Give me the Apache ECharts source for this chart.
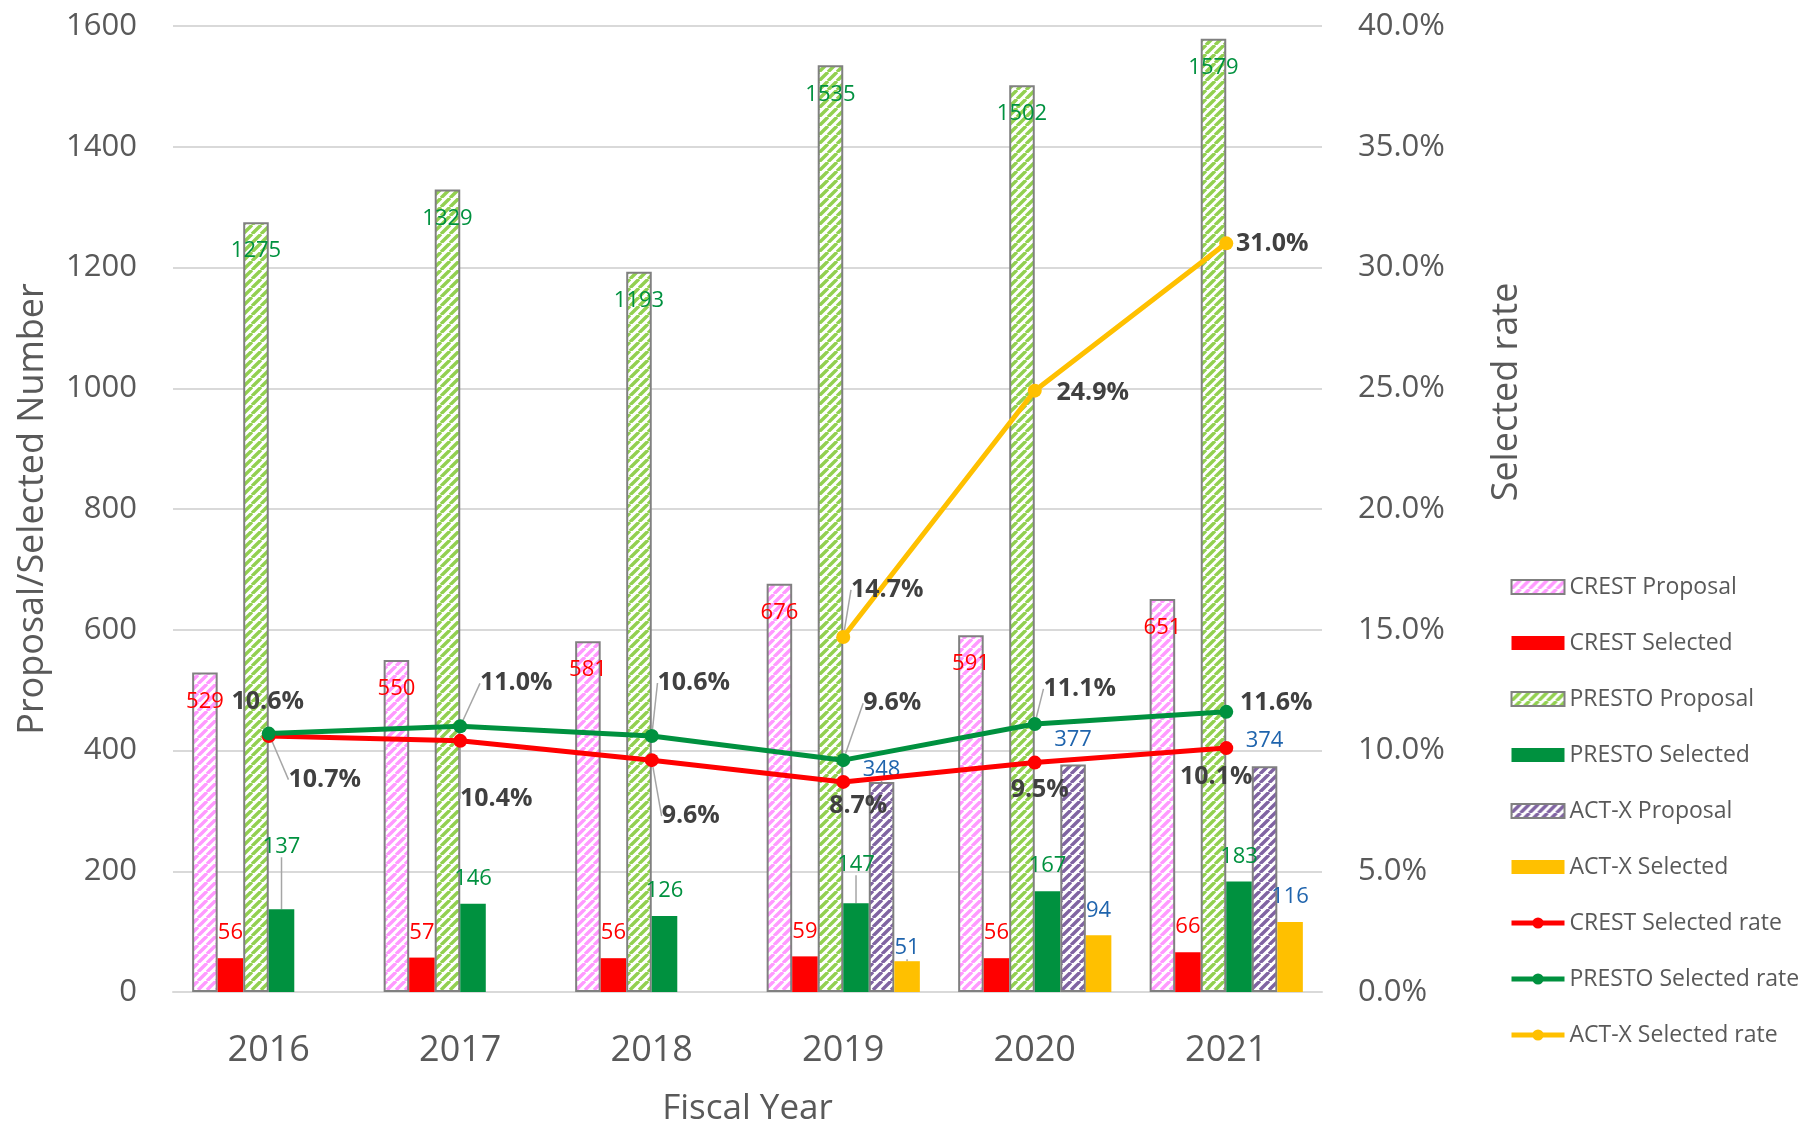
<!DOCTYPE html>
<html lang="en">
<head>
<meta charset="UTF-8">
<title>Proposal / Selected</title>
<script src="https://cdn.jsdelivr.net/npm/echarts@6/dist/echarts.min.js"></script>
<style>
    html,body{margin:0;padding:0;background:#fff;}
    #main{width:1811px;height:1124px;}
</style>
</head>
<body>
<div id="main"></div>
<script>
// data
var years = ['2016', '2017', '2018', '2019', '2020', '2021'];
var crestProposal = [529, 550, 581, 676, 591, 651];
var crestSelected = [56, 57, 56, 59, 56, 66];
var prestoProposal = [1275, 1329, 1193, 1535, 1502, 1579];
var prestoSelected = [137, 146, 126, 147, 167, 183];
var actxProposal = [null, null, null, 348, 377, 374];
var actxSelected = [null, null, null, 51, 94, 116];
// selected rate, %
var crestRate = [10.6, 10.4, 9.6, 8.7, 9.5, 10.1];
var prestoRate = [10.7, 11.0, 10.6, 9.6, 11.1, 11.6];
var actxRate = [null, null, null, 14.7, 24.9, 31.0];

// label nudges (px), kept apart from the values
var crestRateShift = [[-1, -34], [36, 58], [39, 56], [15, 24], [5, 27], [-10, 29]];
var prestoRateShift = [[56, 46], [56, -43], [42, -53], [49, -57], [45, -35], [50, -9]];
var actxRateShift = [null, null, null, [44, -47], [58, 2], [46, 1]];
var crestRateGuide = [0, 1, 1, 0, 0, 0];
var prestoRateGuide = [1, 1, 1, 1, 1, 0];
var actxRateGuide = [0, 0, 0, 1, 0, 0];
var prestoSelShift = [-38, 0, 0, -14, 0, 0];
var actxPropShift = [0, 0, 0, 13, 0, 0];
var actxSelShift = [0, 0, 0, 12, 0, 0];

var FONT = '"Open Sans", "Noto Sans", sans-serif';
var GREY = '#595959';

function hatch(color) {
    var s = 9;
    var c = document.createElement('canvas');
    c.width = s; c.height = s;
    var ctx = c.getContext('2d');
    ctx.fillStyle = '#fff';
    ctx.fillRect(0, 0, s, s);
    ctx.strokeStyle = color;
    ctx.lineWidth = 3.4;
    ctx.beginPath();
    [-s, 0, s].forEach(function (o) {
        ctx.moveTo(o, s);
        ctx.lineTo(o + s, 0);
    });
    ctx.stroke();
    return { image: c, repeat: 'repeat' };
}

function withGuide(values, shifts) {
    return values.map(function (v, i) {
        if (shifts && shifts[i]) return { value: v, labelLine: { show: true } };
        return v;
    });
}

function bar(name, values, fill, labelColor, pos, hatched, shifts) {
    return {
        name: name,
        type: 'bar',
        barGap: '0%',
        barCategoryGap: '20%',
        data: withGuide(values, shifts),
        itemStyle: hatched ? { color: fill, borderColor: '#808080', borderWidth: 2 } : { color: fill },
        label: {
            show: true,
            position: pos,
            distance: pos === 'insideTop' ? 18 : 14,
            color: labelColor,
            fontSize: 22,
            fontFamily: FONT
        },
        labelLine: { show: false, lineStyle: { color: '#A6A6A6', width: 1.5 } },
        labelLayout: function (p) {
            if (shifts && shifts[p.dataIndex]) return { dy: shifts[p.dataIndex] };
            return {};
        }
    };
}

function rateLine(name, values, color, shifts, guides) {
    return {
        name: name,
        type: 'line',
        yAxisIndex: 1,
        z: 5,
        data: values.map(function (v, i) {
            return { value: v, labelLine: { show: !!guides[i] } };
        }),
        symbol: 'circle',
        symbolSize: 14,
        lineStyle: { color: color, width: 5 },
        itemStyle: { color: color },
        label: {
            show: true,
            position: 'inside',
            formatter: function (p) { return p.value.toFixed(1) + '%'; },
            color: '#404040',
            fontWeight: 'bold',
            fontSize: 25,
            fontFamily: FONT
        },
        labelLine: { show: false, lineStyle: { color: '#A6A6A6', width: 1.5 } },
        labelLayout: function (p) {
            var s = shifts[p.dataIndex];
            return s ? { dx: s[0], dy: s[1] } : {};
        }
    };
}

var myChart = echarts.init(document.getElementById('main'));
var option = {
    animation: false,
    backgroundColor: '#fff',
    textStyle: { fontFamily: FONT },
    grid: { left: 173, right: 489, top: 26, bottom: 132, containLabel: false, outerBoundsMode: 'none' },
    legend: {
        orient: 'vertical',
        left: 1504,
        top: 570,
        itemWidth: 53,
        itemHeight: 14,
        itemGap: 32,
        lineStyle: { width: 5 },
        textStyle: { color: GREY, fontSize: 23, lineHeight: 24, fontFamily: FONT },
        data: [
            { name: 'CREST Proposal', icon: 'rect' },
            { name: 'CREST Selected', icon: 'rect' },
            { name: 'PRESTO Proposal', icon: 'rect' },
            { name: 'PRESTO Selected', icon: 'rect' },
            { name: 'ACT-X Proposal', icon: 'rect' },
            { name: 'ACT-X Selected', icon: 'rect' },
            'CREST Selected rate',
            'PRESTO Selected rate',
            'ACT-X Selected rate'
        ]
    },
    xAxis: {
        type: 'category',
        data: years,
        name: 'Fiscal Year',
        nameLocation: 'middle',
        nameGap: 100,
        nameTextStyle: { color: GREY, fontSize: 35, fontFamily: FONT },
        axisTick: { show: false },
        axisLine: { lineStyle: { color: '#D9D9D9', width: 2 } },
        axisLabel: { color: GREY, fontSize: 36, margin: 41, fontFamily: FONT }
    },
    yAxis: [{
        type: 'value',
        min: 0,
        max: 1600,
        interval: 200,
        name: 'Proposal/Selected Number',
        nameLocation: 'middle',
        nameGap: 122,
        nameTextStyle: { color: GREY, fontSize: 36, fontFamily: FONT },
        axisLabel: {
            color: GREY, fontSize: 31, margin: 36, fontFamily: FONT,
            formatter: function (v) { return String(v); }
        },
        splitLine: { lineStyle: { color: '#D9D9D9', width: 2 } }
    }, {
        type: 'value',
        min: 0,
        max: 40,
        interval: 5,
        position: 'right',
        axisLabel: {
            color: GREY, fontSize: 31, margin: 36, fontFamily: FONT,
            formatter: function (v) { return v.toFixed(1) + '%'; }
        },
        splitLine: { show: false }
    }],
    graphic: [{
        type: 'text',
        x: 1507,
        y: 392,
        rotation: Math.PI / 2,
        style: {
            text: 'Selected rate',
            fill: GREY,
            font: '36px ' + FONT,
            textAlign: 'center',
            textVerticalAlign: 'middle'
        }
    }],
    series: [
        bar('CREST Proposal', crestProposal, hatch('#FF99FF'), '#FF0000', 'insideTop', true),
        bar('CREST Selected', crestSelected, '#FF0000', '#FF0000', 'top', false),
        bar('PRESTO Proposal', prestoProposal, hatch('#92D050'), '#00913F', 'insideTop', true),
        bar('PRESTO Selected', prestoSelected, '#00913F', '#00913F', 'top', false, prestoSelShift),
        bar('ACT-X Proposal', actxProposal, hatch('#8064A2'), '#1F64AD', 'top', true, actxPropShift),
        bar('ACT-X Selected', actxSelected, '#FFC000', '#1F64AD', 'top', false, actxSelShift),
        rateLine('CREST Selected rate', crestRate, '#FF0000', crestRateShift, crestRateGuide),
        rateLine('PRESTO Selected rate', prestoRate, '#00913F', prestoRateShift, prestoRateGuide),
        rateLine('ACT-X Selected rate', actxRate, '#FFC000', actxRateShift, actxRateGuide)
    ]
};
myChart.setOption(option);
</script>
</body>
</html>
